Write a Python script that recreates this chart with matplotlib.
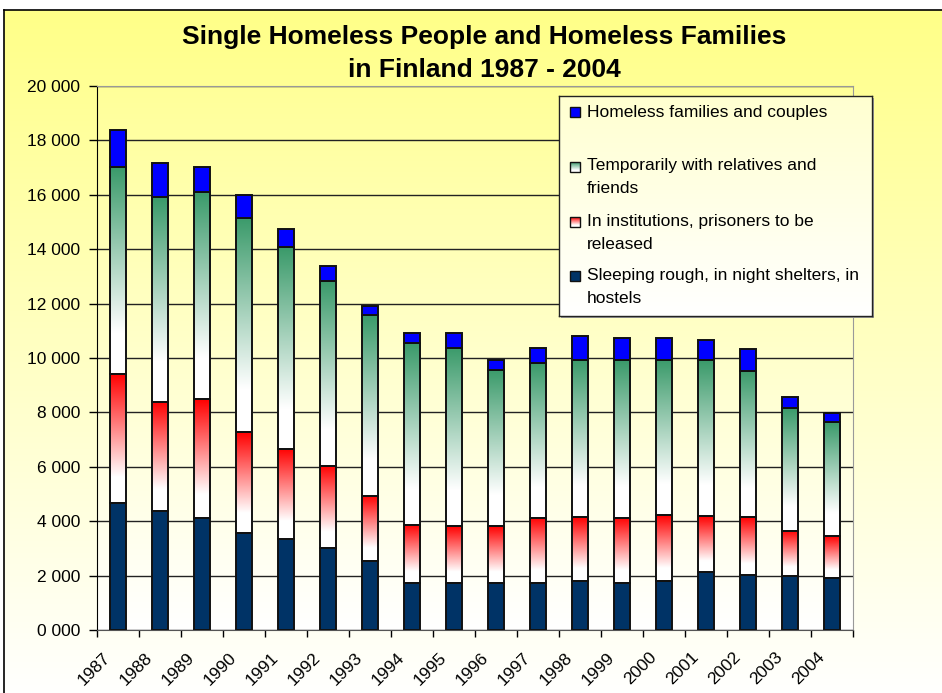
import numpy as np
import matplotlib.pyplot as plt
from matplotlib.patches import Rectangle
from matplotlib.colors import LinearSegmentedColormap
import matplotlib.transforms as mtransforms

plt.rcParams['font.family'] = ['Liberation Sans', 'DejaVu Sans']

years = [str(y) for y in range(1987, 2005)]
sleeping_rough = [4680, 4380, 4130, 3580, 3330, 3020, 2530, 1720, 1720, 1720,
                  1720, 1800, 1720, 1800, 2150, 2020, 1970, 1910]
institutions = [4750, 4010, 4360, 3700, 3340, 3020, 2410, 2150, 2090, 2090,
                2410, 2340, 2410, 2410, 2050, 2120, 1660, 1540]
temporarily = [7590, 7530, 7610, 7880, 7410, 6780, 6650, 6670, 6550, 5760,
               5670, 5800, 5800, 5730, 5730, 5380, 4520, 4190]
families = [1370, 1240, 930, 820, 680, 560, 330, 380, 560, 360,
            570, 880, 810, 810, 730, 800, 430, 320]

legend_labels = ["Homeless families and couples",
                 "Temporarily with relatives and\nfriends",
                 "In institutions, prisoners to be\nreleased",
                 "Sleeping rough, in night shelters, in\nhostels"]

W, H = 942, 693
fig = plt.figure(figsize=(W / 100, H / 100), dpi=100, facecolor='white')


def px_box(x0, y0, x1, y1):
    return [x0 / W, 1 - y1 / H, (x1 - x0) / W, (y1 - y0) / H]


grad = np.linspace(0, 1, 256).reshape(-1, 1)

# chart background
bg = fig.add_axes(px_box(4, 10, W + 5, H + 5), zorder=0)
bg.imshow(grad, cmap=LinearSegmentedColormap.from_list('bg', ['#FFFF88', '#FFFFFF']),
          aspect='auto', extent=[0, 1, 0, 1])
bg.set_xlim(0, 1)
bg.set_ylim(0, 1)
bg.set_xticks([])
bg.set_yticks([])
for s in ['right', 'bottom']:
    bg.spines[s].set_visible(False)
bg.spines['left'].set_linewidth(1.2)
bg.spines['top'].set_linewidth(1.2)

fig.text(484 / W, 1 - 37 / H, "Single Homeless People and Homeless Families",
         ha='center', va='center', fontsize=19, fontweight='bold')
fig.text(484 / W, 1 - 70 / H, "in Finland 1987 - 2004",
         ha='center', va='center', fontsize=19, fontweight='bold')

# plot area
ax = fig.add_axes(px_box(97, 86, 853, 630), zorder=2)
ax.imshow(grad, cmap=LinearSegmentedColormap.from_list('pa', ['#FFFF99', '#FFFFFF']),
          aspect='auto', extent=[0, 18, 0, 20000], zorder=0)
ax.set_facecolor('none')

x = np.arange(len(years)) + 0.5
red_cmap = LinearSegmentedColormap.from_list(
    'red', [(0, '#FF0000'), (0.8, '#FFFFFF'), (1, '#FFFFFF')])
green_cmap = LinearSegmentedColormap.from_list(
    'green', [(0, '#3A9A6A'), (0.8, '#FFFFFF'), (1, '#FFFFFF')])

series = [(sleeping_rough, '#003366', None),
          (institutions, 'none', red_cmap),
          (temporarily, 'none', green_cmap),
          (families, '#0000FF', None)]

bottom = np.zeros(len(years))
for vals, col, cm in series:
    bars = ax.bar(x, vals, 0.4, bottom=bottom, color=col, edgecolor='#111111',
                  linewidth=1.4, zorder=3)
    if cm is not None:
        for b in bars:
            ax.imshow(grad, cmap=cm, aspect='auto', zorder=2.5,
                      extent=[b.get_x(), b.get_x() + b.get_width(),
                              b.get_y(), b.get_y() + b.get_height()])
    bottom += np.array(vals)

ax.set_xlim(0, 18)
ax.set_ylim(0, 20000)
ax.set_axisbelow(True)
ax.yaxis.grid(True, color='#222222', linewidth=1)

ax.set_yticks(range(0, 20001, 2000))
ax.set_yticklabels(["%d 000" % (v // 1000) for v in range(0, 20001, 2000)], fontsize=12.5)
ax.tick_params(axis='y', direction='out', length=6, width=1, pad=6)

ax.set_xticks(x)
ax.set_xticklabels(years, fontsize=12.5, rotation=45, ha='right', va='center',
                   rotation_mode='anchor')
ax.set_xticks(np.arange(0, 19), minor=True)
ax.tick_params(axis='x', which='major', length=0, pad=18)
ax.tick_params(axis='x', which='minor', direction='out', length=5, width=1)
shift = mtransforms.ScaledTranslation(-10 / 100, 0, fig.dpi_scale_trans)
for lab in ax.get_xticklabels():
    lab.set_transform(lab.get_transform() + shift)

ax.spines['left'].set_color('black')
ax.spines['bottom'].set_color('#555555')
ax.spines['top'].set_color('#999999')
ax.spines['right'].set_color('#999999')

# legend
lx0, ly0, lx1, ly1 = 559, 96, 872, 316
shadow = fig.add_axes(px_box(lx0 + 2, ly0 + 2, lx1 + 2, ly1 + 2), zorder=4)
shadow.set_facecolor('#9a9a9a')
shadow.set_xticks([])
shadow.set_yticks([])
for s in shadow.spines.values():
    s.set_visible(False)

lg = fig.add_axes(px_box(lx0, ly0, lx1, ly1), zorder=5)
lg.imshow(grad, cmap=LinearSegmentedColormap.from_list('lg', ['#FFFFD0', '#FFFFFF']),
          aspect='auto', extent=[lx0, lx1, ly1, ly0])
lg.set_xlim(lx0, lx1)
lg.set_ylim(ly1, ly0)
lg.set_xticks([])
lg.set_yticks([])
for s in lg.spines.values():
    s.set_color('#222222')
    s.set_linewidth(1)

text_y = [111, 164, 220, 274]
marker_y = [112, 167, 222, 276]
markers = [('#0000FF', None), (None, green_cmap), (None, red_cmap), ('#003366', None)]
for lab, ty, my, (col, cm) in zip(legend_labels, text_y, marker_y, markers):
    if cm is not None:
        lg.imshow(grad, cmap=cm, aspect='auto', zorder=2,
                  extent=[570, 580, my + 5, my - 5])
        lg.add_patch(Rectangle((570, my - 5), 10, 10, facecolor='none',
                               edgecolor='#111111', linewidth=1, zorder=3))
    else:
        lg.add_patch(Rectangle((570, my - 5), 10, 10, facecolor=col,
                               edgecolor='#111111', linewidth=1, zorder=3))
    lg.text(587, ty - 6, lab, fontsize=12.5, ha='left', va='top', linespacing=1.65)

fig.savefig('out.png', dpi=100, facecolor=fig.get_facecolor())
